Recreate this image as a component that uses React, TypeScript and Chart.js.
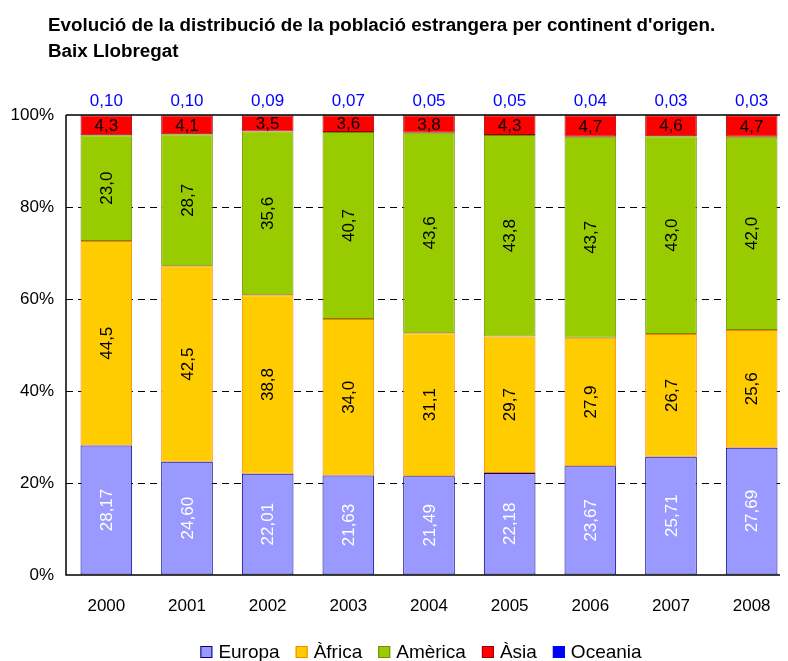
import React, { useEffect, useRef } from "react";
import { Chart, registerables } from "chart.js";

Chart.register(...registerables);

const years = ["2000", "2001", "2002", "2003", "2004", "2005", "2006", "2007", "2008"];
const europa = [28.17, 24.6, 22.01, 21.63, 21.49, 22.18, 23.67, 25.71, 27.69];
const africa = [44.5, 42.5, 38.8, 34.0, 31.1, 29.7, 27.9, 26.7, 25.6];
const america = [23.0, 28.7, 35.6, 40.7, 43.6, 43.8, 43.7, 43.0, 42.0];
const asia = [4.3, 4.1, 3.5, 3.6, 3.8, 4.3, 4.7, 4.6, 4.7];
const oceania = [0.1, 0.1, 0.09, 0.07, 0.05, 0.05, 0.04, 0.03, 0.03];
const seriesNames = ["Europa", "Àfrica", "Amèrica", "Àsia", "Oceania"];
const yTicks = [0, 20, 40, 60, 80, 100];
const titleLines = [
  "Evolució de la distribució de la població estrangera per continent d'origen.",
  "Baix Llobregat",
];

const FONT = "'Liberation Sans', Arial, sans-serif";

const fmt = (v: number, d: number) => v.toFixed(d).replace(".", ",");

export default function App() {
  const ref = useRef<HTMLCanvasElement | null>(null);

  useEffect(() => {
    if (!ref.current) return;
    const all = [europa, africa, america, asia, oceania];
    const totals = years.map((_, i) => all.reduce((s, a) => s + a[i], 0));
    const norm = (a: number[]) => a.map((v, i) => (v / totals[i]) * 100);
    const fills = ["#9999FF", "#FFCC00", "#99CC00", "#FF0000", "#0000FF"];
    const borders = ["#000080", "#FF8000", "#6B8E00", "#990000", "#0000FF"];
    const decimals = [2, 1, 1, 1, 2];

    const labelPlugin = {
      id: "labels",
      afterDatasetsDraw(chart: any) {
        const ctx = chart.ctx;
        const ca = chart.chartArea;
        ctx.save();
        // frame lines
        ctx.strokeStyle = "#000";
        ctx.lineWidth = 1.5;
        ctx.setLineDash([]);
        ctx.beginPath();
        ctx.moveTo(ca.left, ca.top);
        ctx.lineTo(ca.right, ca.top);
        ctx.moveTo(ca.left, ca.top);
        ctx.lineTo(ca.left, ca.bottom);
        ctx.lineTo(ca.right, ca.bottom);
        ctx.stroke();

        ctx.font = `17px ${FONT}`;
        ctx.textAlign = "center";
        ctx.textBaseline = "middle";
        for (let d = 0; d < 5; d++) {
          const meta = chart.getDatasetMeta(d);
          meta.data.forEach((bar: any, i: number) => {
            const raw = all[d][i];
            const txt = fmt(raw, decimals[d]);
            const cy = (bar.y + bar.base) / 2;
            if (d <= 2) {
              ctx.save();
              ctx.translate(bar.x, cy);
              ctx.rotate(-Math.PI / 2);
              ctx.fillStyle = d === 0 ? "#FFFFFF" : "#000000";
              ctx.fillText(txt, 0, 1);
              ctx.restore();
            } else if (d === 3) {
              ctx.fillStyle = "#000";
              ctx.fillText(txt, bar.x, cy + 1);
            } else {
              ctx.fillStyle = "#0000FF";
              ctx.fillText(txt, bar.x, ca.top - 14);
            }
          });
        }

        // title
        ctx.fillStyle = "#000";
        ctx.textAlign = "left";
        ctx.textBaseline = "alphabetic";
        ctx.font = `bold 18.8px ${FONT}`;
        ctx.fillText(titleLines[0], 40, 23);
        ctx.fillText(titleLines[1], 40, 49);

        // legend
        ctx.textBaseline = "middle";
        ctx.font = `19px ${FONT}`;
        const box = 12;
        const gap = 6;
        const sep = 16;
        const widths = seriesNames.map((n) => ctx.measureText(n).width);
        const total = widths.reduce((s, w) => s + box + gap + w, 0) + sep * (seriesNames.length - 1);
        let x = 413 - total / 2;
        const ly = 644;
        seriesNames.forEach((n, k) => {
          ctx.fillStyle = fills[k];
          ctx.fillRect(x, ly - box / 2, box, box);
          ctx.strokeStyle = borders[k];
          ctx.lineWidth = 1;
          ctx.strokeRect(x + 0.5, ly - box / 2 + 0.5, box - 1, box - 1);
          ctx.fillStyle = "#000";
          ctx.textAlign = "left";
          ctx.fillText(n, x + box + gap, ly + 1);
          x += box + gap + widths[k] + sep;
        });
        ctx.restore();
      },
    };

    const chart = new Chart(ref.current, {
      type: "bar",
      data: {
        labels: years,
        datasets: all.map((a, k) => ({
          label: seriesNames[k],
          data: norm(a),
          backgroundColor: fills[k],
          borderColor: borders[k],
          borderWidth: 1,
          borderSkipped: false,
          categoryPercentage: 1,
          barPercentage: 0.64,
        })),
      },
      options: {
        animation: false,
        responsive: false,
        maintainAspectRatio: false,
        layout: { padding: { top: 107, left: 0, right: 16, bottom: 36 } },
        plugins: {
          legend: { display: false },
          title: { display: false },
          tooltip: { enabled: false },
        },
        scales: {
          x: {
            stacked: true,
            grid: { display: false },
            border: { display: false },
            ticks: { color: "#000", font: { family: FONT, size: 17 }, padding: 13 },
            afterFit: (s: any) => {
              s.height = 50;
            },
          },
          y: {
            stacked: true,
            min: 0,
            max: 100,
            afterBuildTicks: (s: any) => {
              s.ticks = yTicks.map((v) => ({ value: v }));
            },
            ticks: {
              color: "#000",
              font: { family: FONT, size: 17 },
              padding: 12,
              callback: (v: any) => `${v}%`,
            },
            border: { display: false, dash: [7, 5] },
            grid: {
              drawTicks: false,
              color: (c: any) => (c.tick && (c.tick.value === 0 || c.tick.value === 100) ? "rgba(0,0,0,0)" : "#000"),
              lineWidth: 1,
            },
            afterFit: (s: any) => {
              s.width = 58;
            },
          },
        },
      } as any,
      plugins: [labelPlugin],
    });
    return () => chart.destroy();
  }, []);

  return (
    <div style={{ width: 780, height: 653, overflow: "hidden" }}>
      <canvas ref={ref} width={800} height={653} style={{ display: "block" }} />
    </div>
  );
}
